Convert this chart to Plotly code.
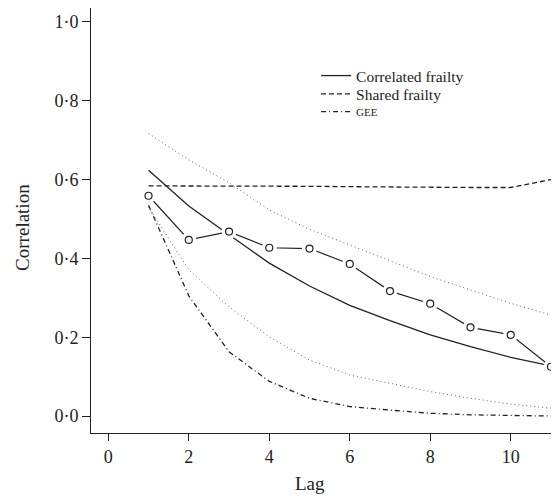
import plotly.graph_objects as go

lag = [1, 2, 3, 4, 5, 6, 7, 8, 9, 10, 11]
observed = [0.559, 0.447, 0.468, 0.427, 0.425, 0.386, 0.317, 0.285, 0.225, 0.206, 0.125]
correlated = [0.624, 0.533, 0.460, 0.388, 0.330, 0.281, 0.242, 0.206, 0.176, 0.149, 0.127]
shared = [0.584, 0.584, 0.584, 0.583, 0.583, 0.582, 0.581, 0.581, 0.580, 0.580, 0.600]
gee = [0.535, 0.305, 0.163, 0.088, 0.045, 0.024, 0.015, 0.007, 0.003, 0.001, 0.000]
upper = [0.717, 0.650, 0.592, 0.523, 0.474, 0.434, 0.396, 0.354, 0.320, 0.286, 0.256]
lower = [0.530, 0.371, 0.277, 0.201, 0.142, 0.104, 0.083, 0.062, 0.045, 0.030, 0.020]

xtick_vals = [0, 2, 4, 6, 8, 10]
ytick_vals = [0.0, 0.2, 0.4, 0.6, 0.8, 1.0]
ytick_text = ["0·0", "0·2", "0·4", "0·6", "0·8", "1·0"]

FONT = "Liberation Serif"
INK = "#222222"

fig = go.Figure()

# dotted envelope lines
for band in (upper, lower):
    fig.add_trace(go.Scatter(x=lag, y=band, mode="lines", showlegend=False,
                             line=dict(color="#666666", width=1, dash="1px,3px"),
                             hoverinfo="skip"))

fig.add_trace(go.Scatter(x=lag, y=correlated, mode="lines", name="Correlated frailty",
                         legend="legend", line=dict(color=INK, width=1.3)))
fig.add_trace(go.Scatter(x=lag, y=shared, mode="lines", name="Shared frailty",
                         legend="legend2", line=dict(color=INK, width=1.3, dash="5px,3px")))
fig.add_trace(go.Scatter(x=lag, y=gee, mode="lines", name="GEE",
                         legend="legend3",
                         line=dict(color=INK, width=1.3, dash="5px,3px,1px,3px")))

# observed: line with gaps around open circles
fig.add_trace(go.Scatter(x=lag, y=observed, mode="lines", showlegend=False,
                         line=dict(color=INK, width=1.2)))
fig.add_trace(go.Scatter(x=lag, y=observed, mode="markers", showlegend=False,
                         cliponaxis=False,
                         marker=dict(symbol="circle", size=15, color="white",
                                     line=dict(width=0))))
fig.add_trace(go.Scatter(x=lag, y=observed, mode="markers", showlegend=False,
                         cliponaxis=False,
                         marker=dict(symbol="circle-open", size=7, color=INK,
                                     line=dict(width=1.2, color=INK))))

leg_common = dict(x=0.481, xanchor="left", yanchor="middle",
                  bgcolor="rgba(0,0,0,0)", itemwidth=30, borderwidth=0)

fig.update_layout(
    width=551, height=489,
    margin=dict(l=83, r=0, t=0, b=64),
    paper_bgcolor="white", plot_bgcolor="white",
    font=dict(family=FONT, color=INK, size=18),
    showlegend=True,
    legend=dict(y=0.840, font=dict(family=FONT, size=15.5, color=INK), **leg_common),
    legend2=dict(y=0.797, font=dict(family=FONT, size=15.5, color=INK), **leg_common),
    legend3=dict(y=0.756, font=dict(family=FONT, size=11, color=INK), **leg_common),
    xaxis=dict(range=[-0.43, 11.2], tickvals=xtick_vals, ticks="outside", ticklen=7,
               tickwidth=1, tickcolor=INK, showgrid=False, zeroline=False,
               showline=True, linecolor=INK, linewidth=1,
               tickfont=dict(family=FONT, size=18, color=INK)),
    yaxis=dict(range=[-0.0431, 1.0355], tickvals=ytick_vals, ticktext=ytick_text,
               ticks="outside", ticklen=8, tickwidth=1, tickcolor=INK,
               showgrid=False, zeroline=False, showline=True, linecolor=INK,
               linewidth=1, tickfont=dict(family=FONT, size=18, color=INK)),
    annotations=[
        dict(text="Lag", x=5, xref="x", y=-0.118, yref="paper", showarrow=False,
             xanchor="center", yanchor="middle", font=dict(family=FONT, size=19, color=INK)),
        dict(text="Correlation", x=-0.1453, xref="paper", y=0.48, yref="y", showarrow=False,
             textangle=-90, xanchor="center", yanchor="middle",
             font=dict(family=FONT, size=19, color=INK)),
    ],
)

fig.write_html("out.html")
